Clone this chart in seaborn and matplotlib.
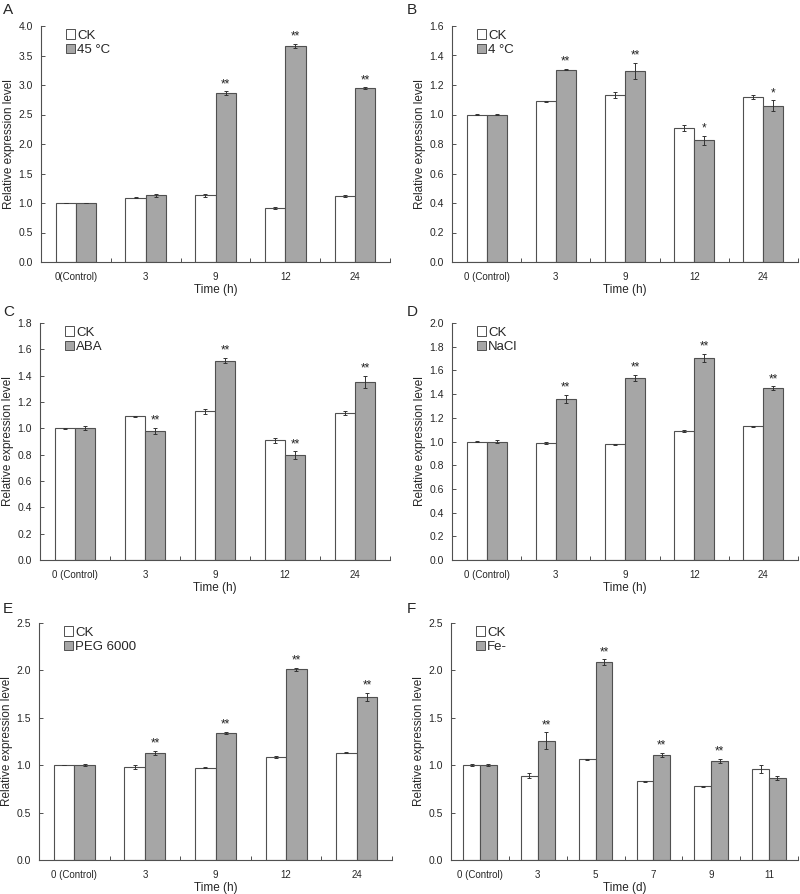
import numpy as np
import pandas as pd
import seaborn as sns
import matplotlib.pyplot as plt
from matplotlib.patches import Patch

# ---- data ----
times_h = ['0(Control)', '3', '9', '12', '24']
times_h2 = ['0 (Control)', '3', '9', '12', '24']
times_d = ['0 (Control)', '3', '5', '7', '9', '11']

ck_a = [1.00, 1.09, 1.13, 0.91, 1.12]
ck_a_err = [0.0, 0.01, 0.02, 0.02, 0.02]
heat = [1.00, 1.13, 2.86, 3.66, 2.95]
heat_err = [0.0, 0.03, 0.03, 0.04, 0.01]
heat_sig = ['', '', '**', '**', '**']

ck_b = [1.00, 1.09, 1.13, 0.91, 1.12]
ck_b_err = [0.005, 0.004, 0.02, 0.02, 0.015]
cold = [1.00, 1.305, 1.295, 0.825, 1.06]
cold_err = [0.005, 0.004, 0.055, 0.03, 0.035]
cold_sig = ['', '**', '**', '*', '*']

ck_c = [1.00, 1.09, 1.13, 0.91, 1.12]
ck_c_err = [0.005, 0.005, 0.02, 0.02, 0.015]
aba = [1.00, 0.98, 1.515, 0.795, 1.35]
aba_err = [0.015, 0.025, 0.02, 0.03, 0.045]
aba_sig = ['', '**', '**', '**', '**']

ck_d = [1.00, 0.985, 0.975, 1.09, 1.13]
ck_d_err = [0.003, 0.01, 0.003, 0.008, 0.004]
nacl = [1.00, 1.36, 1.535, 1.705, 1.45]
nacl_err = [0.015, 0.035, 0.025, 0.035, 0.015]
nacl_sig = ['', '**', '**', '**', '**']

ck_e = [1.00, 0.985, 0.975, 1.09, 1.13]
ck_e_err = [0.003, 0.02, 0.005, 0.01, 0.005]
peg = [1.00, 1.13, 1.34, 2.01, 1.72]
peg_err = [0.01, 0.02, 0.015, 0.02, 0.045]
peg_sig = ['', '**', '**', '**', '**']

ck_f = [1.00, 0.89, 1.065, 0.83, 0.78, 0.96]
ck_f_err = [0.01, 0.03, 0.005, 0.005, 0.005, 0.045]
fe = [1.00, 1.26, 2.085, 1.105, 1.045, 0.865]
fe_err = [0.01, 0.085, 0.03, 0.02, 0.025, 0.02]
fe_sig = ['', '**', '**', '**', '**', '']

panels = [
    ('A', times_h, ck_a, ck_a_err, heat, heat_err, heat_sig, '45 °C', 'Time (h)', 4.0, 0.5),
    ('B', times_h2, ck_b, ck_b_err, cold, cold_err, cold_sig, '4 °C', 'Time (h)', 1.6, 0.2),
    ('C', times_h2, ck_c, ck_c_err, aba, aba_err, aba_sig, 'ABA', 'Time (h)', 1.8, 0.2),
    ('D', times_h2, ck_d, ck_d_err, nacl, nacl_err, nacl_sig, 'NaCl', 'Time (h)', 2.0, 0.2),
    ('E', times_h2, ck_e, ck_e_err, peg, peg_err, peg_sig, 'PEG 6000', 'Time (h)', 2.5, 0.5),
    ('F', times_d, ck_f, ck_f_err, fe, fe_err, fe_sig, 'Fe-', 'Time (d)', 2.5, 0.5),
]

sns.set_style("ticks")
plt.rcParams['font.family'] = ['Liberation Sans', 'DejaVu Sans']

fig = plt.figure(figsize=(8, 8.94), dpi=100)

# axes boxes in pixels: (left, top, right, bottom)
boxes = [(41, 26, 390, 262), (452, 26, 798, 262),
         (40, 323, 390, 560), (452, 323, 798, 560),
         (39, 623, 392, 860), (451, 623, 798, 860)]
letter_pos = [(3, 10), (407, 10), (3, 312), (407, 312), (3, 609), (407, 609)]

W, H = 800, 894
edge = '#505050'
gray = '#a6a6a6'

for (letter, cats, ck, ck_err, trt, trt_err, sig, trt_name, xlabel, ymax, ystep), box, lp in zip(panels, boxes, letter_pos):
    l, t, r, b = box
    ax = fig.add_axes([l / W, 1 - b / H, (r - l) / W, (b - t) / H])

    df = pd.DataFrame({
        'time': cats * 2,
        'value': ck + trt,
        'group': ['CK'] * len(cats) + [trt_name] * len(cats),
    })
    sns.barplot(data=df, x='time', y='value', hue='group', order=cats,
                hue_order=['CK', trt_name], palette=['white', gray],
                width=0.58, errorbar=None, edgecolor=edge, linewidth=0.8,
                saturation=1, ax=ax)

    # error bars and significance marks on top of the seaborn bars
    n = len(cats)
    bars = ax.patches[:2 * n]
    vals = ck + trt
    errs = ck_err + trt_err
    marks = [''] * n + sig
    for p, v, e, m in zip(bars, vals, errs, marks):
        xc = p.get_x() + p.get_width() / 2
        ax.errorbar(xc, v, yerr=e, fmt='none', ecolor='#333333',
                    elinewidth=0.7, capsize=1.5, capthick=0.7)
        if m:
            ax.text(xc, v + e + ymax * 0.006, m, ha='center', va='bottom',
                    fontsize=8.5, color='#222222')

    ax.set_xlim(-0.5, n - 0.5)
    ax.set_ylim(0, ymax)
    ax.set_yticks(np.arange(0, ymax + ystep / 2, ystep))
    ax.yaxis.set_major_formatter(plt.FormatStrFormatter('%.1f'))
    ax.set_xticks(np.arange(0.5, n, 1.0), minor=True)
    ax.tick_params(axis='x', which='major', length=0, labelsize=7, pad=7)
    ax.tick_params(axis='x', which='minor', direction='in', length=3, width=0.7, color=edge)
    ax.tick_params(axis='y', direction='in', length=3, width=0.7, color=edge,
                   labelsize=7.5, pad=6)
    ax.set_xlabel(xlabel, fontsize=8.5, labelpad=2)
    ax.set_ylabel('Relative expression level', fontsize=8.5, labelpad=2)
    sns.despine(ax=ax)
    for s in ['left', 'bottom']:
        ax.spines[s].set_color(edge)
        ax.spines[s].set_linewidth(0.8)

    handles = [Patch(facecolor='white', edgecolor=edge, linewidth=0.7),
               Patch(facecolor=gray, edgecolor=edge, linewidth=0.7)]
    ax.legend(handles, ['CK', trt_name], loc='upper left',
              bbox_to_anchor=(0.045, 1.025), frameon=False, fontsize=9.5,
              handlelength=0.7, handleheight=0.7, handletextpad=0.15,
              labelspacing=0.2, borderpad=0.2)

    fig.text(lp[0] / W, 1 - lp[1] / H, letter, fontsize=11, va='center', ha='left')

fig.savefig('out.png', dpi=100)
